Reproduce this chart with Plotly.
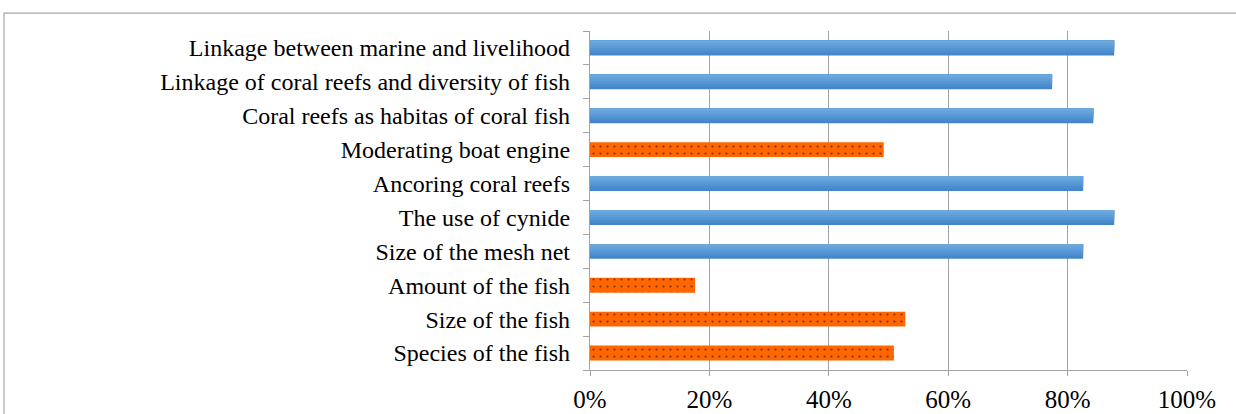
import plotly.graph_objects as go

# categories bottom -> top
categories = [
    "Species of the fish",
    "Size of the fish",
    "Amount of the fish",
    "Size of the mesh net",
    "The use of cynide",
    "Ancoring coral reefs",
    "Moderating boat engine",
    "Coral reefs as habitas of coral fish",
    "Linkage of coral reefs and diversity of fish",
    "Linkage between marine and livelihood",
]
values = [0.509, 0.528, 0.176, 0.826, 0.878, 0.826, 0.492, 0.843, 0.774, 0.878]
dotted = [True, True, True, False, False, False, True, False, False, False]

tick_vals = [0, 0.2, 0.4, 0.6, 0.8, 1.0]
tick_text = ["0%", "20%", "40%", "60%", "80%", "100%"]

# blue bars fade from dark (bottom) to light (top)
BLUE_STEPS = ["#4486c8", "#4b8dce", "#5394d3", "#5b9bd7", "#64a2da", "#6da8dd"]
ORANGE = "#ff6600"
GRID = "#a3a3a3"
FONT = "Liberation Serif"
BAR_W = 0.44

blue_x = [None if d else v for v, d in zip(values, dotted)]
orange_x = [v if d else None for v, d in zip(values, dotted)]

fig = go.Figure()

# gradient look: each lighter layer covers a smaller top part of the bar
step = BAR_W / len(BLUE_STEPS)
for i, c in enumerate(BLUE_STEPS):
    fig.add_trace(go.Bar(
        y=categories, x=blue_x, orientation="h",
        width=BAR_W - i * step, offset=-BAR_W / 2 + i * step,
        marker=dict(color=c, line=dict(width=0)),
        showlegend=False, hoverinfo="skip" if i else None,
    ))

# dotted orange bars
fig.add_trace(go.Bar(
    y=categories, x=orange_x, orientation="h",
    width=BAR_W, offset=-BAR_W / 2,
    marker=dict(
        color=ORANGE,
        line=dict(width=0),
        pattern=dict(shape=".", fgcolor="black", bgcolor=ORANGE,
                     size=7, solidity=0.08, fillmode="overlay"),
    ),
    showlegend=False,
))

fig.update_layout(
    width=1236,
    height=414,
    margin=dict(l=590, r=49, t=31, b=44),
    paper_bgcolor="white",
    plot_bgcolor="white",
    font=dict(family=FONT, color="black"),
    barmode="overlay",
    # outer chart frame (only top and left edges visible in the crop)
    shapes=[dict(
        type="rect", xref="paper", yref="paper",
        x0=-0.9816, x1=1.2, y0=-0.5, y1=1.053,
        line=dict(color="#a6a6a6", width=1.2),
        fillcolor="rgba(0,0,0,0)",
    )],
)

fig.update_xaxes(
    range=[0, 1],
    tickvals=tick_vals,
    ticktext=tick_text,
    tickfont=dict(size=25, family=FONT, color="black"),
    ticklabelstandoff=2,
    automargin=False,
    showgrid=True,
    gridcolor=GRID,
    gridwidth=1.3,
    showline=True,
    linecolor=GRID,
    linewidth=1.3,
    ticks="outside",
    ticklen=5,
    tickcolor=GRID,
    zeroline=False,
    fixedrange=True,
)

fig.update_yaxes(
    type="category",
    categoryorder="array",
    categoryarray=categories,
    tickfont=dict(size=24, family=FONT, color="black"),
    automargin=False,
    showline=True,
    linecolor=GRID,
    linewidth=1.3,
    ticks="outside",
    tickson="boundaries",
    ticklen=6,
    tickcolor=GRID,
    ticklabelstandoff=14,
    showgrid=False,
    fixedrange=True,
)

# drop the default 8px body margin so the figure sits at the page origin
fig.write_html("out.html", config={"displayModeBar": False},
               post_script="document.body.style.margin='0';")
